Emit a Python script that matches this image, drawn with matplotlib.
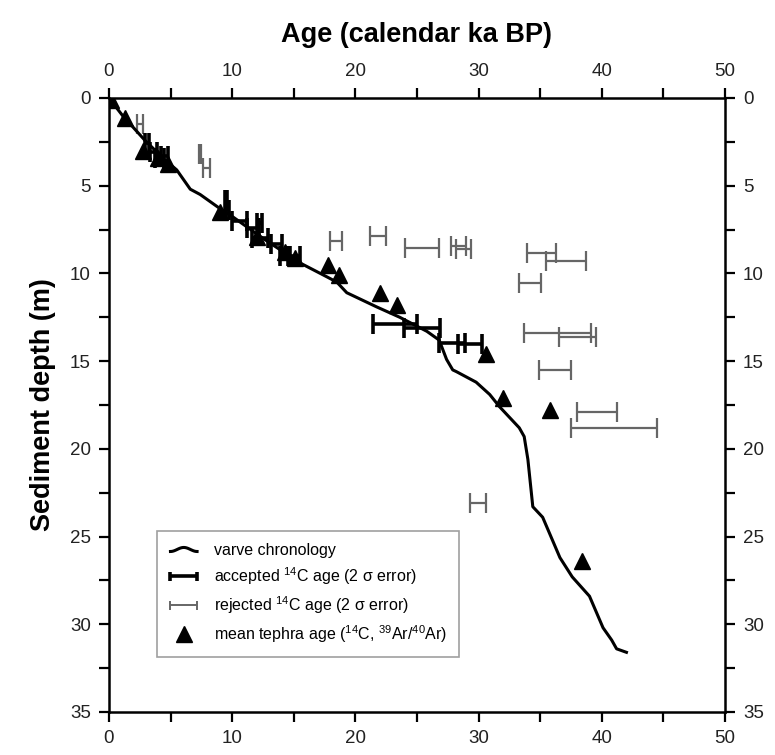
import numpy as np
import matplotlib
matplotlib.use("Agg")
import matplotlib.pyplot as plt
from matplotlib.lines import Line2D
from matplotlib.legend_handler import HandlerBase

plt.rcParams['font.family'] = ['Liberation Sans', 'DejaVu Sans']
plt.rcParams['mathtext.fontset'] = 'custom'
plt.rcParams['mathtext.rm'] = 'Liberation Sans'
plt.rcParams['mathtext.it'] = 'Liberation Sans:italic'
plt.rcParams['mathtext.sf'] = 'Liberation Sans'

# Varve chronology (age in ka BP vs depth in m)
varve_age = [0.0, 1.1, 2.9, 4.5, 5.5, 6.6, 7.4, 9.0, 10.1, 12.5, 15.5, 17.7, 18.5,
             19.3, 21.7, 23.6, 25.8, 26.8, 27.4, 27.9, 28.2, 29.8, 30.9, 31.7, 33.3,
             33.7, 34.0, 34.4, 35.2, 36.6, 37.6, 39.0, 40.1, 40.8, 41.2, 42.0]
varve_depth = [0.0, 1.0, 2.4, 3.5, 4.1, 5.2, 5.5, 6.3, 6.8, 8.0, 9.4, 10.2, 10.5,
               11.1, 11.9, 12.5, 13.3, 13.8, 14.9, 15.5, 15.6, 16.2, 16.9, 17.6, 18.8,
               19.3, 20.6, 23.3, 23.9, 26.2, 27.3, 28.4, 30.2, 30.9, 31.4, 31.6]

# Accepted 14C ages: centre, 2-sigma half-width, depth
acc_age = [3.1, 3.6, 4.1, 4.5, 9.5, 9.6, 10.6, 11.7, 12.2, 12.25, 13.6, 14.2, 15.1,
           23.2, 25.4, 27.85, 29.3]
acc_err = [0.15, 0.3, 0.4, 0.3, 0.12, 0.12, 0.6, 0.5, 0.2, 0.65, 0.45, 0.3, 0.4,
           1.8, 1.45, 1.05, 1.0]
acc_depth = [2.55, 3.1, 3.4, 3.3, 5.8, 6.4, 7.0, 7.4, 7.1, 8.0, 8.3, 9.0, 9.0,
             12.9, 13.1, 13.95, 14.0]

# Rejected 14C ages: centre, 2-sigma half-width, depth
rej_age = [2.5, 7.4, 7.9, 18.45, 21.85, 25.4, 28.4, 28.8, 35.1, 37.1, 34.2, 36.4,
           38.0, 36.2, 39.6, 41.0, 29.95]
rej_err = [0.25, 0.1, 0.3, 0.5, 0.65, 1.4, 0.6, 0.6, 1.15, 1.6, 0.9, 2.7,
           1.5, 1.3, 1.65, 3.5, 0.65]
rej_depth = [1.5, 3.2, 4.0, 8.15, 7.85, 8.55, 8.45, 8.6, 8.85, 9.3, 10.55, 13.4,
             13.6, 15.5, 17.9, 18.8, 23.1]

# Mean tephra ages
teph_age = [0.2, 1.3, 2.8, 4.0, 4.8, 9.0, 12.0, 14.3, 15.1, 17.8, 18.7, 22.0,
            23.4, 30.6, 32.0, 35.8, 38.4]
teph_depth = [0.1, 1.15, 3.0, 3.4, 3.75, 6.5, 7.9, 8.8, 9.1, 9.5, 10.1, 11.1,
              11.8, 14.6, 17.1, 17.8, 26.4]

x_ticks = [0, 10, 20, 30, 40, 50]
y_ticks = [0, 5, 10, 15, 20, 25, 30, 35]

legend_labels = ['varve chronology',
                 'accepted $^{14}$C age (2 σ error)',
                 'rejected $^{14}$C age (2 σ error)',
                 'mean tephra age ($^{14}$C, $^{39}$Ar/$^{40}$Ar)']


class HandlerWave(HandlerBase):
    """Legend glyph drawn as a short wavy stroke."""

    def create_artists(self, legend, orig_handle, xdescent, ydescent,
                       width, height, fontsize, trans):
        t = np.linspace(0, 1, 40)
        xs = -xdescent + width * (0.05 + 0.9 * t)
        ys = -ydescent + height / 2 + 0.18 * height * np.sin(np.pi * (2 * t - 0.5))
        return [Line2D(xs, ys, color=orig_handle.get_color(),
                       lw=orig_handle.get_linewidth(), transform=trans)]


class HandlerHBar(HandlerBase):
    """Legend glyph for a horizontal error bar with short end caps."""

    def __init__(self, color, lw, cap_frac=0.8, **kw):
        super().__init__(**kw)
        self.color, self.lw, self.cap_frac = color, lw, cap_frac

    def create_artists(self, legend, orig_handle, xdescent, ydescent,
                       width, height, fontsize, trans):
        x0 = -xdescent + 0.05 * width
        x1 = -xdescent + 0.95 * width
        yc = -ydescent + height / 2
        h = self.cap_frac * height / 2
        kw = dict(color=self.color, lw=self.lw, transform=trans,
                  solid_capstyle='butt')
        return [Line2D([x0, x1], [yc, yc], **kw),
                Line2D([x0, x0], [yc - h, yc + h], **kw),
                Line2D([x1, x1], [yc - h, yc + h], **kw)]


fig = plt.figure(figsize=(7.75, 7.55), dpi=100)
ax = fig.add_axes([0.1406, 0.057, 0.7949, 0.8132])

gray = '#666666'
line_h, = ax.plot(varve_age, varve_depth, color='black', lw=2.2, zorder=3)
rej = ax.errorbar(rej_age, rej_depth, xerr=rej_err, fmt='none', ecolor=gray,
                  elinewidth=1.6, capsize=7, capthick=1.6, zorder=2)
acc = ax.errorbar(acc_age, acc_depth, xerr=acc_err, fmt='none', ecolor='black',
                  elinewidth=2.6, capsize=7, capthick=2.6, zorder=4)
tri, = ax.plot(teph_age, teph_depth, linestyle='none', marker='^', color='black',
               markersize=11, zorder=5)

ax.set_xlim(0, 50)
ax.set_ylim(35, 0)
ax.set_xticks(x_ticks)
ax.set_xticks(range(0, 51, 5), minor=True)
ax.set_yticks(y_ticks)
ax.set_yticks([v * 2.5 for v in range(15)], minor=True)

ax.tick_params(which='both', direction='out', top=True, right=True,
               labeltop=True, labelright=True, width=1.6, labelsize=13.5,
               labelcolor='#222222')
ax.tick_params(which='major', length=7, pad=6)
ax.tick_params(which='minor', length=7)
for s in ax.spines.values():
    s.set_linewidth(1.8)

ax.set_xlabel('Age (calendar ka BP)', fontsize=19.5, fontweight='bold', labelpad=15)
ax.xaxis.set_label_position('top')
ax.set_ylabel('Sediment depth (m)', fontsize=19.5, fontweight='bold', labelpad=10)

leg = ax.legend([line_h, acc, rej, tri], legend_labels,
                loc='lower left', bbox_to_anchor=(0.078, 0.09),
                borderaxespad=0,
                fontsize=11.5, frameon=True, fancybox=False, edgecolor='#888888',
                borderpad=0.75, labelspacing=0.45, handlelength=1.85,
                handletextpad=0.95,
                handler_map={line_h: HandlerWave(),
                             acc: HandlerHBar('black', 2.6),
                             rej: HandlerHBar(gray, 1.4)})
leg.get_frame().set_linewidth(1.2)
leg.set_zorder(6)

fig.savefig('out.png', dpi=100)
